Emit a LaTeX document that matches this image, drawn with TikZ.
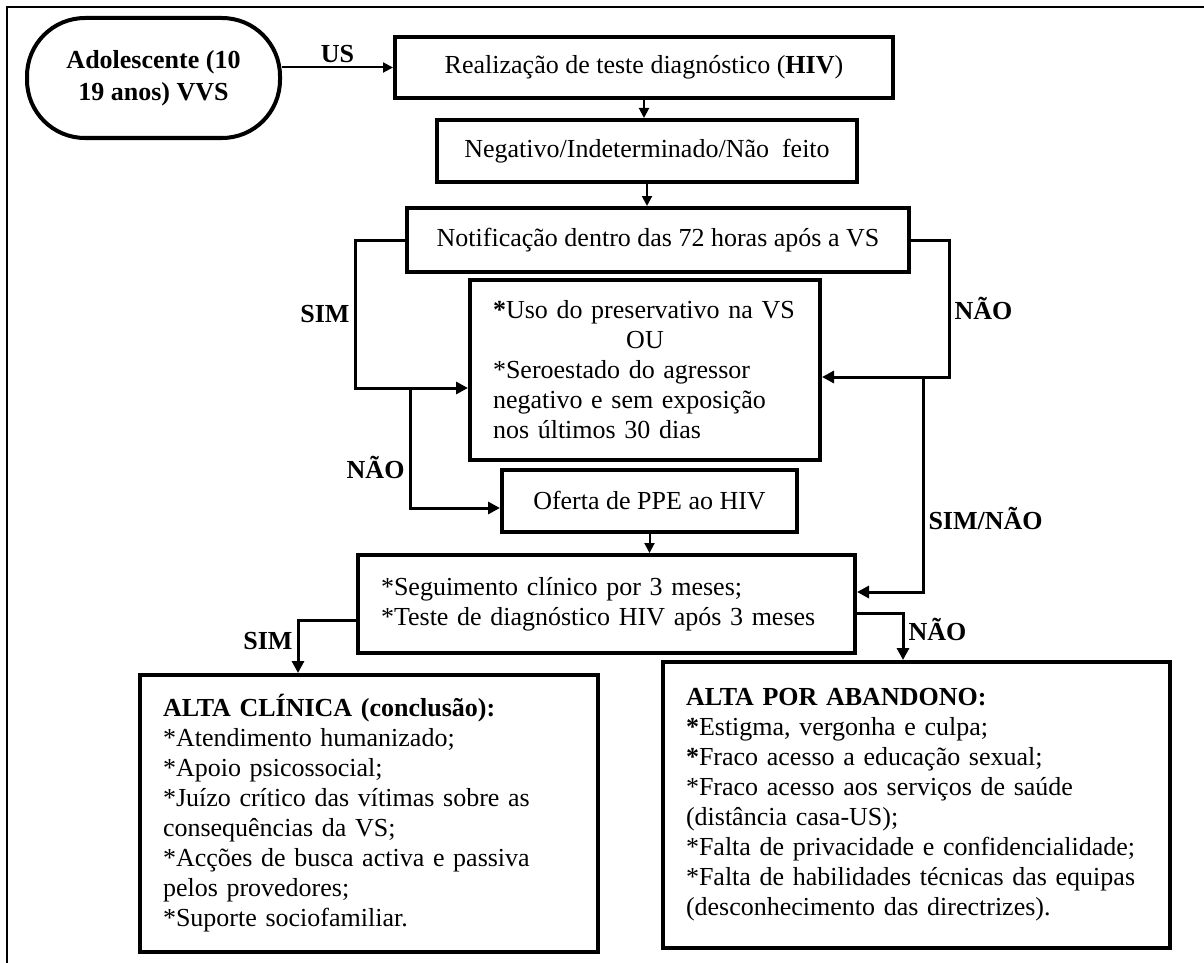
\documentclass[tikz,border=0pt]{standalone}
\usepackage{fontspec}
\setmainfont{Liberation Serif}
\usetikzlibrary{arrows.meta, positioning, calc}

\begin{document}
\begin{tikzpicture}[x=0.5pt, y=-0.5pt,
  font=\fontsize{13}{15}\selectfont,
  box/.style={draw, line width=2pt, inner xsep=11.5pt, inner ysep=4pt},
  flow/.style={line width=1.5pt, -{Triangle[length=6pt, width=6pt]}},
  link/.style={line width=1pt, -{Triangle[length=5pt, width=5pt]}},
  lbl/.style={font=\fontsize{13}{15}\selectfont\bfseries, inner sep=2pt}]
  \useasboundingbox (0,0) rectangle (1204,963);
  \draw[line width=1pt] (7,963) -- (7,7.5) -- (1204,7.5);

  \node[box, rounded corners=29pt, minimum width=126.5pt, minimum height=60pt, align=center,
        font=\fontsize{13}{16}\selectfont\bfseries] (adol) at (153.5,78) {Adolescente (10\\19 anos) VVS};
  \node[box, minimum width=249pt, minimum height=30.5pt] (teste) at (644,67.5) {Realização de teste diagnóstico (\textbf{HIV})};
  \node[box, minimum width=210pt, minimum height=31pt] (neg) at (647,151) {Negativo/Indeterminado/Não~ feito};
  \node[box, minimum width=251pt, minimum height=32pt] (notif) at (658,240) {Notificação dentro das 72 horas após a VS};
  \node[box, minimum width=175pt, minimum height=90pt, text width=152pt, align=left] (cond) at (645,370) {%
    \textbf{*}Uso do preservativo na VS\\
    \makebox[\linewidth]{OU}\\{}%
    *Seroestado do agressor\\
    negativo e sem exposição\\
    nos últimos 30 dias};
  \node[box, minimum width=147.5pt, minimum height=31pt] (ppe) at (649.5,501) {Oferta de PPE ao HIV};
  \node[box, minimum width=248.5pt, minimum height=49pt, text width=225.5pt, align=left] (segui) at (606.5,604) {%
    *Seguimento clínico por 3 meses;\\{}%
    *Teste de diagnóstico HIV após 3 meses};
  \node[box, minimum width=229pt, minimum height=138.5pt, text width=206pt, align=left] (altac) at (369,813.5) {%
    \textbf{ALTA CLÍNICA (conclusão):}\\{}%
    *Atendimento humanizado;\\{}%
    *Apoio psicossocial;\\{}%
    *Juízo crítico das vítimas sobre as\\
    consequências da VS;\\{}%
    *Acções de busca activa e passiva\\
    pelos provedores;\\{}%
    *Suporte sociofamiliar.};
  \node[box, minimum width=253.5pt, minimum height=143pt, text width=230.5pt, align=left] (altaab) at (916.5,805) {%
    \textbf{ALTA POR ABANDONO:}\\
    \textbf{*}Estigma, vergonha e culpa;\\
    \textbf{*}Fraco acesso a educação sexual;\\{}%
    *Fraco acesso aos serviços de saúde\\
    (distância casa-US);\\{}%
    *Falta de privacidade e confidencialidade;\\{}%
    *Falta de habilidades técnicas das equipas\\
    (desconhecimento das directrizes).};

  % pontos de desvio
  \coordinate (simL) at (355,388);
  \coordinate (naoL) at (410,388);
  \coordinate (naoR) at (949,377);
  \coordinate (simnao) at (923,377);

  \draw[link] (adol.east |- teste.west) -- node[lbl, above] {US} (teste.west);
  \draw[link] (teste.south) -- (teste.south |- neg.north);
  \draw[link] (neg.south) -- (neg.south |- notif.north);
  \draw[flow] (notif.west) -| node[lbl, pos=0.75, left] {SIM} (simL) -- (simL -| cond.west);
  \draw[flow] (naoL) |- node[lbl, pos=0.33, left] {NÃO} ([yshift=-3.5pt]ppe.west);
  \draw[flow] (notif.east) -| node[lbl, pos=0.75, right] {NÃO} (naoR) -- (naoR -| cond.east);
  \draw[flow] (simnao) |- node[lbl, pos=0.33, right] {SIM/NÃO} ([yshift=6pt]segui.east);
  \draw[link] (ppe.south) -- (ppe.south |- segui.north);
  \draw[flow] ([yshift=-8pt]segui.west) -| node[lbl, pos=0.7, left] {SIM} ([xshift=-35.5pt]altac.north);
  \draw[flow] ([yshift=-4.5pt]segui.east) -| node[lbl, pos=0.67, right] {NÃO} ([xshift=-6.75pt]altaab.north);
\end{tikzpicture}
\end{document}
